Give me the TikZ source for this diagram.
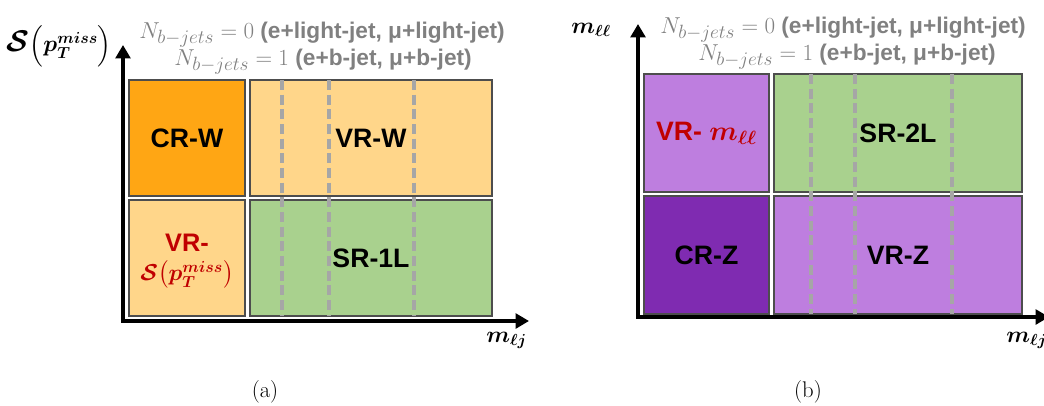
\documentclass[tikz,border=0pt]{standalone}
\usepackage{fontspec}
\setsansfont{Liberation Sans}
\usepackage{amsmath}
\usetikzlibrary{arrows.meta}
\definecolor{orgdark}{HTML}{FFA614}
\definecolor{orglight}{HTML}{FFD68A}
\definecolor{grn}{HTML}{A9D18E}
\definecolor{purlight}{HTML}{BE7EDF}
\definecolor{purdark}{HTML}{7F2BB1}
\definecolor{redtxt}{HTML}{C00000}
\definecolor{bordergrey}{HTML}{4D4D4D}
\definecolor{dashgrey}{HTML}{A6A6A6}
\definecolor{headgrey}{HTML}{808080}
\newcommand{\hdmath}[1]{{\mdseries\fontsize{19}{20}\selectfont$#1$}}
\newcommand{\bigS}{\mathord{\scalebox{1.3}{$\mathcal{S}$}}}
\newcommand{\sigptmiss}{\bigS\mathopen{}\left(\vcenter to 27pt{}p_T^{miss}\right)}
\newcommand{\sigptmissbox}{\mathcal{S}\mathopen{}\left(\vcenter to 20pt{}p_T^{miss}\right)}
\begin{document}
\begin{tikzpicture}[x=0.75pt,y=-0.75pt,
  region/.style={draw=bordergrey,line width=1.5pt,inner sep=0pt,
    font=\sffamily\bfseries\fontsize{20}{22}\selectfont},
  narrow/.style={minimum width=87pt,minimum height=87pt},
  wide/.style={minimum width=181.5pt,minimum height=87pt},
  narrowb/.style={minimum width=93.75pt,minimum height=88.5pt},
  wideb/.style={minimum width=186pt,minimum height=88.5pt},
  divider/.style={draw=dashgrey,line width=2.6pt,dash pattern=on 7.5pt off 3.5pt},
  axis/.style={draw=black,line width=2.6pt,line join=miter,
    {Triangle[length=10pt,width=11pt]}-{Triangle[length=10pt,width=11pt]}},
  header/.style={text=headgrey,anchor=base,inner sep=0pt,
    font=\sffamily\bfseries\fontsize{17}{20}\selectfont},
  axlabel/.style={inner sep=0pt,font=\fontsize{17.5}{20}\selectfont\boldmath},
  redlabel/.style={text=redtxt,inner sep=0pt},
  caption/.style={anchor=base,inner sep=0pt,font=\fontsize{17}{20}\selectfont}]
\useasboundingbox (0,0) rectangle (1044,405);

% ---------------- panel (a) ----------------
\node[region,narrow,fill=orgdark] (crw) at (187,138) {CR-W};
\node[region,wide,fill=orglight] (vrw) at (371,138) {VR-W};
\node[region,narrow,fill=orglight] (vrs) at (187,258) {};
\node[redlabel,font=\sffamily\bfseries\fontsize{19}{20}\selectfont]
  (vrst) at ([yshift=11.5pt]vrs.center) {VR-};
\node[redlabel,font=\fontsize{17}{20}\selectfont\boldmath]
  (vrsm) at ([yshift=-12.5pt]vrs.center) {$\sigptmissbox$};
\node[region,wide,fill=grn] (sr1) at (371,258) {SR-1L};
\foreach \xx in {282,329,414}{\draw[divider] (\xx,80) -- (\xx,316);}

\coordinate (oa) at (123,321);
\coordinate (ya) at (123,45);
\coordinate (xa) at (529,321);
\draw[axis] (ya) -- (oa) -- (xa);

\node[axlabel,anchor=east] (ylaba) at (112,46) {$\sigptmiss$};
\node[axlabel,anchor=base west] (xlaba) at (486,342) {$m_{\ell j}$};
\node[header] (ha1) at (322,38) {\hdmath{N_{b-jets}=0} (e+light-jet, μ+light-jet)};
\node[header] (ha2) at (323,65) {\hdmath{N_{b-jets}=1} (e+b-jet, μ+b-jet)};
\node[caption] (capa) at (265,397) {(a)};

% ---------------- panel (b) ----------------
\node[region,narrowb,fill=purlight,text=redtxt] (vrm) at (706.5,133)
  {VR- {\boldmath$m_{\ell\ell}$}};
\node[region,wideb,fill=grn] (sr2) at (898,133) {SR-2L};
\node[region,narrowb,fill=purdark] (crz) at (706.5,255) {CR-Z};
\node[region,wideb,fill=purlight] (vrz) at (898,255) {VR-Z};
\foreach \xx in {811,855,952}{\draw[divider] (\xx,74) -- (\xx,314);}

\coordinate (ob) at (638,317);
\coordinate (yb) at (638,24);
\coordinate (xb) at (1049,317);
\draw[axis] (yb) -- (ob) -- (xb);

\node[axlabel,anchor=base west] (ylabb) at (571,33) {$m_{\ell\ell}$};
\node[axlabel,anchor=base west] (xlabb) at (1006,342) {$m_{\ell j}$};
\node[header] (hb1) at (843,33) {\hdmath{N_{b-jets}=0} (e+light-jet, μ+light-jet)};
\node[header] (hb2) at (847,60) {\hdmath{N_{b-jets}=1} (e+b-jet, μ+b-jet)};
\node[caption] (capb) at (808,397) {(b)};
\end{tikzpicture}
\end{document}
